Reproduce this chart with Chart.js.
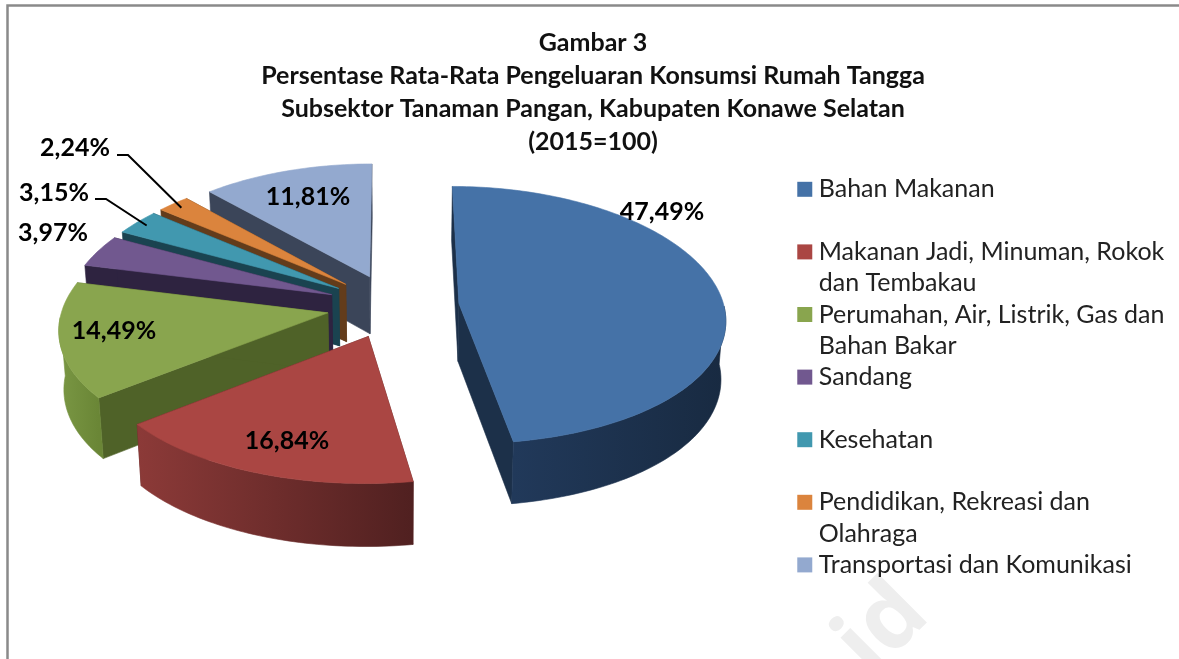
<!DOCTYPE html>
<html><head><meta charset="utf-8">
<style>html,body{margin:0;padding:0;background:#fff}canvas{display:block}</style>
<script src="https://cdn.jsdelivr.net/npm/chart.js@4"></script>
</head><body>
<div style="width:1179px;height:659px"><canvas id="c" width="1179" height="659"></canvas></div>
<script>
const categoryLines = [
  ['Bahan Makanan',''],
  ['Makanan Jadi, Minuman, Rokok','dan Tembakau'],
  ['Perumahan, Air, Listrik, Gas dan','Bahan Bakar'],
  ['Sandang',''],
  ['Kesehatan',''],
  ['Pendidikan, Rekreasi dan','Olahraga'],
  ['Transportasi dan Komunikasi']
];
const shareValues = [47.49, 16.84, 14.49, 3.97, 3.15, 2.24, 11.81];
const shareLabels = ['47,49%','16,84%','14,49%','3,97%','3,15%','2,24%','11,81%'];
const titleLines = ['Gambar 3','Persentase Rata-Rata Pengeluaran Konsumsi Rumah Tangga','Subsektor Tanaman Pangan, Kabupaten Konawe Selatan','(2015=100)'];
const topColors  = ['#4572A7','#AA4643','#89A54E','#71588F','#4198AF','#DB843D','#93A9CF'];
const cutColors  = ['#1c3049','#5a2322','#4f6228','#2e2340','#1a4350','#633c1b','#3b4559'];
const wallFrom   = ['#21395a','#8c3a38','#7a9744','#4a3a60','#2a6273','#8f5526','#5a6a88'];
const wallTo     = ['#182a41','#502020','#6a8636','#2e2340','#1a4350','#633c1b','#3b4559'];
const explodePx  = [45,45,45,45,45,45,45];
const labelAt    = [[662,212],[287,441],[114,331],[53,233],[54,193],[75,148],[308,197]];
const leaderElbow= {4:[[95,199],[106,199]],5:[[117,155],[128,155]]};

const VIEW = {kx:265/180, ky:128/180, px:.11, py:.09, depth:58, depthP:.07, conv:.985};
function projector(el){
  const cx = 393, cy = 306;
  return function(U,V,bottom){
    let x = cx + el.outerRadius*VIEW.kx*U/(1-VIEW.px*V);
    let y = cy + el.outerRadius*VIEW.ky*V/(1-VIEW.py*V);
    if(bottom){ x = 400+(x-400)*VIEW.conv; y += VIEW.depth*(1+VIEW.depthP*V); }
    return [x,y];
  };
}
function poly(ctx,pts,fill){
  ctx.beginPath();
  pts.forEach((p,i)=> i?ctx.lineTo(p[0],p[1]):ctx.moveTo(p[0],p[1]));
  ctx.closePath();
  ctx.fillStyle=fill; ctx.strokeStyle=fill; ctx.lineWidth=.6; ctx.fill(); ctx.stroke();
}
function geometry(el,i){
  const e = explodePx[i]/el.outerRadius;
  const mid=(el.startAngle+el.endAngle)/2;
  const ou=e*Math.cos(mid), ov=e*Math.sin(mid);
  const pts=[], ts=[];
  const n=Math.max(4,Math.ceil((el.endAngle-el.startAngle)/0.02));
  for(let k=0;k<=n;k++){const t=el.startAngle+(el.endAngle-el.startAngle)*k/n;ts.push(t);pts.push([ou+Math.cos(t),ov+Math.sin(t)]);}
  return {ou,ov,pts,ts,mid,e};
}
const pie3d = {
  id:'pie3d',
  beforeLayout(chart){
    // legend swatches are drawn with a wide stroke; keep them from being clipped at the legend box
    if(chart.legend) chart.legend.draw=function(){ this._draw(); };
  },
  beforeDraw(chart){
    const c=chart.ctx; c.save();
    c.fillStyle='#fff'; c.fillRect(0,0,chart.width,chart.height);
    c.translate(890,608); c.rotate(-Math.PI/4);
    c.fillStyle='#eeeeee'; c.font='bold 92px "Open Sans"'; c.textAlign='center'; c.textBaseline='middle';
    c.fillText('id',-20,10);
    c.restore();
    c.save(); c.strokeStyle='#8a8a8a'; c.lineWidth=2.5;
    c.beginPath(); c.moveTo(7.5,659); c.lineTo(7.5,5.5); c.lineTo(1179,5.5); c.stroke(); c.restore();
  },
  beforeDatasetsDraw(chart){
    const ctx=chart.ctx, meta=chart.getDatasetMeta(0);
    const order=meta.data.map((el,i)=>{const g=geometry(el,i);return {el,i,g,key:g.ov};}).sort((a,b)=>a.key-b.key);
    ctx.save();
    for(const {el,i,g} of order){
      const P=projector(el);
      const A=[g.ou,g.ov], S=g.pts[0], E=g.pts[g.pts.length-1];
      poly(ctx,[P(A[0],A[1]),P(S[0],S[1]),P(S[0],S[1],true),P(A[0],A[1],true)],cutColors[i]);
      poly(ctx,[P(A[0],A[1]),P(E[0],E[1]),P(E[0],E[1],true),P(A[0],A[1],true)],cutColors[i]);
      const topPts=g.pts.map(p=>P(p[0],p[1]));
      const front=g.pts.filter((p,k)=>Math.sin(g.ts[k])>0.02);
      if(front.length>1){
        const wt=front.map(p=>P(p[0],p[1]));
        const wb=front.map(p=>P(p[0],p[1],true)).reverse();
        const xs=wt.map(p=>p[0]);
        const gr=ctx.createLinearGradient(Math.min(...xs),0,Math.max(...xs),0);
        gr.addColorStop(0,wallFrom[i]); gr.addColorStop(1,wallTo[i]);
        poly(ctx,wt.concat(wb),gr);
      }
      poly(ctx,[P(A[0],A[1])].concat(topPts),topColors[i]);
    }
    ctx.restore();
    return false;
  },
  afterDraw(chart){
    const ctx=chart.ctx, meta=chart.getDatasetMeta(0);
    ctx.save();
    ctx.strokeStyle='#000'; ctx.lineWidth=2;
    Object.keys(leaderElbow).forEach(k=>{
      const i=+k, el=meta.data[i], g=geometry(el,i), P=projector(el);
      const end=P(g.ou+.95*Math.cos(g.mid),g.ov+.95*Math.sin(g.mid));
      ctx.beginPath();
      leaderElbow[k].forEach((p,j)=>j?ctx.lineTo(p[0],p[1]):ctx.moveTo(p[0],p[1]));
      ctx.lineTo(end[0],end[1]); ctx.stroke();
    });
    ctx.fillStyle='#000'; ctx.font='bold 25px Lato'; ctx.textAlign='center'; ctx.textBaseline='middle';
    shareLabels.forEach((t,i)=>ctx.fillText(t,labelAt[i][0],labelAt[i][1]));
    ctx.restore();
  }
};
new Chart(document.getElementById('c'),{
  type:'pie',
  plugins:[pie3d],
  data:{labels:categoryLines,datasets:[{data:shareValues,backgroundColor:topColors,offset:explodePx,borderWidth:0,rotation:0}]},
  options:{
    responsive:false,animation:false,radius:180,
    layout:{padding:{left:11.5,right:4.5,top:27,bottom:0}},
    plugins:{
      tooltip:{enabled:false},
      title:{display:true,text:titleLines,color:'#111',font:{family:'Lato',size:25,weight:'bold',lineHeight:'32.7px'},padding:{top:0,bottom:19}},
      legend:{position:'right',align:'start',fullSize:false,
        labels:{padding:0,boxWidth:3,boxHeight:3,color:'#222',font:{family:'Lato',size:25,lineHeight:'31.3px'},
          generateLabels(chart){
            return chart.data.labels.map((t,i)=>({text:t,fillStyle:topColors[i],strokeStyle:topColors[i],lineWidth:12,index:i,hidden:false,fontColor:'#222'}));
          }}}
    }
  }
});
</script>
</body></html>
